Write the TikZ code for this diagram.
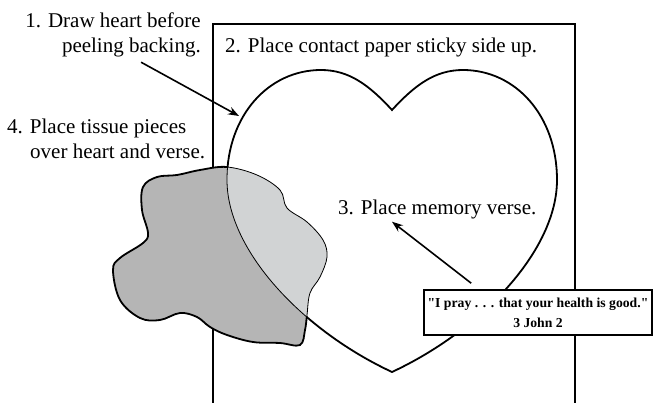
\documentclass[tikz,border=0pt]{standalone}
\usepackage{fontspec}
\setmainfont{Liberation Serif}[Ligatures=TeXOff]
\usetikzlibrary{arrows.meta, positioning}

\definecolor{tissuegray}{RGB}{181,181,181}
\definecolor{tissuelight}{RGB}{209,211,212}

\newcommand{\heartpath}{(392,110) .. controls (415,85) and (435,70) .. (463,70)
  .. controls (515,70) and (557,115) .. (557,180)
  .. controls (557,250) and (482,330) .. (392,372)
  .. controls (302,330) and (227,250) .. (227,180)
  .. controls (227,115) and (269,70) .. (321,70)
  .. controls (349,70) and (369,85) .. (392,110) -- cycle}
\newcommand{\tissuepath}{plot[smooth cycle, tension=.6] coordinates {(227,167) (257,175) (280,190) (287,208) (307,222) (323,240) (327,257) (320,277) (310,293) (307,315) (305,330) (300,345) (280,343) (253,342) (227,335) (210,327) (197,317) (180,313) (160,320) (140,318) (120,300) (113,270) (120,258) (143,243) (148,233) (142,210) (143,187) (157,177) (177,175) (200,170)}}

\begin{document}
\begin{tikzpicture}[x=1pt, y=-1pt, >={Stealth[length=11pt, width=8pt]},
  note/.style={inner sep=0pt, font=\fontsize{21}{25}\selectfont},
  sheet/.style={line width=1.8pt},
  heartline/.style={line width=1.8pt},
  thinline/.style={line width=0.8pt},
  pointer/.style={->, line width=1.6pt},
  versebox/.style={draw, fill=white, line width=1.6pt, minimum width=228pt, minimum height=45pt, inner sep=2pt, align=center, font=\bfseries\fontsize{13.7}{20}\selectfont}]
  \useasboundingbox (0,0) rectangle (654,403);
  % contact paper sheet
  \draw[sheet] (213,403) |- (575,24) -- (575,403);
  % heart
  \draw[heartline] \heartpath;
  % tissue pieces
  \fill[tissuegray] \tissuepath;
  \begin{scope}
    \clip \heartpath;
    \fill[tissuelight] \tissuepath;
    \draw[thinline] \tissuepath;
  \end{scope}
  \begin{scope}
    \clip \tissuepath;
    \draw[thinline] \heartpath;
  \end{scope}
  \begin{scope}[even odd rule]
    \clip (-10,-10) rectangle (700,420) \heartpath;
    \draw[heartline] \tissuepath;
  \end{scope}
  % labels
  \node[note, anchor=north east, align=right] (drawlbl) at (201,12.5) {1. Draw heart before\\peeling backing.};
  \node[note, anchor=base west] (placelbl) at (225,53) {2. Place contact paper sticky side up.};
  \node[note, anchor=base west] (memlbl) at (338,215) {3. Place memory verse.};
  \node[note, anchor=north west, align=left] (tissuelbl) at (7,118.5) {4. Place tissue pieces\\\hspace*{23pt}over heart and verse.};
  \node[versebox] (verse) at (538,312.5) {"I pray . . . that your health is good."\\3 John 2};
  \coordinate (hearttip) at (239,116);
  % arrows
  \draw[pointer] ([xshift=28pt, yshift=-5pt]drawlbl.south) -- (hearttip);
  \draw[pointer] ([xshift=48pt, yshift=6pt]verse.north west) -- ([xshift=54pt, yshift=-2pt]memlbl.south west);
\end{tikzpicture}
\end{document}
